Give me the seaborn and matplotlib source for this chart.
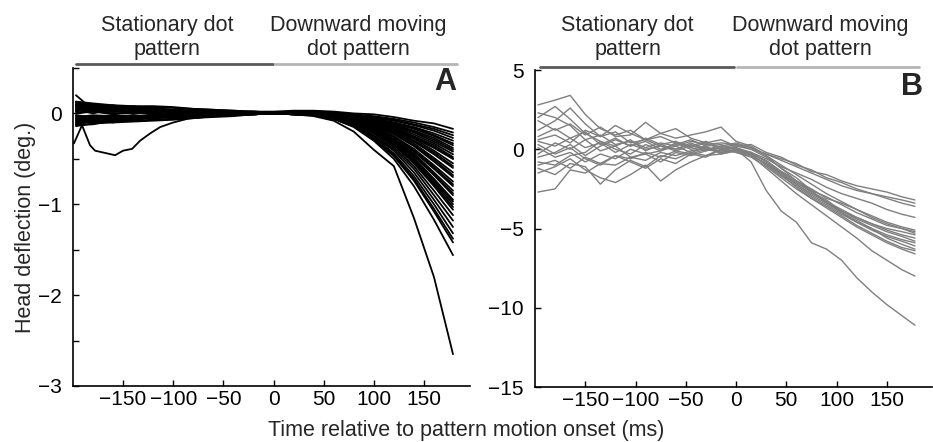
import pandas as pd
import matplotlib
matplotlib.use("Agg")
import matplotlib.pyplot as plt
import seaborn as sns

sns.set_theme(style="ticks")
plt.rcParams['font.family'] = ['Liberation Sans', 'DejaVu Sans']

# Panel A: head deflection (deg.) at coarse time points (ms)
time_a = [-197, -180, -160, -140, -120, -100, -80, -60, -40, -20,
          0, 20, 40, 60, 80, 100, 120, 140, 160, 179]
traces_a = [
    [0.12, 0.10, 0.08, 0.07, 0.07, 0.06, 0.05, 0.04, 0.03, 0.02, 0.02, 0.03, 0.03, 0.02, 0.0, -0.01, -0.04, -0.08, -0.11, -0.17],
    [0.05, 0.07, 0.04, 0.06, 0.03, 0.04, 0.02, 0.03, 0.01, 0.02, 0.01, 0.02, 0.02, 0.01, -0.01, -0.03, -0.06, -0.1, -0.15, -0.21],
    [-0.12, -0.08, -0.09, -0.08, -0.07, -0.06, -0.05, -0.03, -0.02, 0.0, 0.01, 0.02, 0.01, 0.0, -0.02, -0.04, -0.07, -0.12, -0.17, -0.24],
    [-0.09, -0.06, -0.05, -0.03, -0.04, -0.02, -0.03, -0.01, -0.01, 0.0, 0.0, 0.01, 0.0, -0.01, -0.02, -0.05, -0.08, -0.13, -0.19, -0.27],
    [0.08, 0.09, 0.06, 0.05, 0.06, 0.04, 0.02, 0.03, 0.02, 0.01, 0.0, 0.01, 0.0, -0.01, -0.03, -0.06, -0.1, -0.15, -0.22, -0.3],
    [0.1, 0.05, 0.08, 0.04, 0.03, 0.04, 0.02, 0.02, 0.01, 0.01, 0.01, 0.0, 0.0, -0.01, -0.03, -0.06, -0.1, -0.16, -0.24, -0.33],
    [-0.05, -0.1, -0.07, -0.07, -0.04, -0.05, -0.03, -0.02, -0.02, -0.01, 0.0, 0.0, -0.01, -0.02, -0.04, -0.07, -0.11, -0.17, -0.25, -0.35],
    [0.13, 0.11, 0.09, 0.08, 0.08, 0.07, 0.05, 0.04, 0.03, 0.02, 0.0, 0.01, 0.0, -0.02, -0.04, -0.08, -0.12, -0.19, -0.27, -0.38],
    [0.03, 0.05, 0.07, 0.03, 0.04, 0.02, 0.03, 0.01, 0.02, 0.0, 0.01, 0.01, -0.01, -0.02, -0.05, -0.08, -0.13, -0.2, -0.29, -0.4],
    [-0.06, -0.08, -0.03, -0.05, -0.03, -0.03, -0.01, -0.02, 0.0, -0.01, 0.0, 0.0, -0.01, -0.02, -0.05, -0.09, -0.14, -0.21, -0.31, -0.42],
    [-0.1, -0.06, -0.04, -0.05, -0.06, -0.03, -0.02, -0.03, 0.0, -0.01, 0.0, 0.0, -0.01, -0.03, -0.05, -0.09, -0.15, -0.23, -0.33, -0.45],
    [0.0, 0.04, 0.03, 0.02, 0.02, 0.0, 0.02, 0.0, 0.01, 0.0, 0.0, 0.0, -0.01, -0.03, -0.06, -0.1, -0.16, -0.25, -0.35, -0.48],
    [0.1, 0.06, 0.04, 0.06, 0.03, 0.03, 0.02, 0.02, 0.01, 0.02, 0.01, 0.0, -0.01, -0.03, -0.06, -0.1, -0.17, -0.26, -0.37, -0.5],
    [-0.02, -0.04, -0.08, -0.04, -0.02, -0.04, -0.01, -0.02, -0.01, 0.0, 0.0, 0.0, -0.01, -0.03, -0.06, -0.11, -0.18, -0.28, -0.41, -0.55],
    [0.09, 0.06, 0.06, 0.03, 0.02, 0.03, 0.01, 0.01, 0.02, 0.0, 0.0, 0.0, -0.01, -0.03, -0.06, -0.12, -0.19, -0.3, -0.43, -0.58],
    [0.06, 0.02, 0.03, 0.02, 0.05, 0.01, 0.02, 0.0, 0.01, 0.01, 0.0, -0.01, -0.01, -0.03, -0.07, -0.12, -0.2, -0.31, -0.45, -0.6],
    [-0.14, -0.11, -0.1, -0.09, -0.08, -0.07, -0.05, -0.04, -0.03, -0.01, 0.0, 0.0, -0.01, -0.03, -0.07, -0.13, -0.21, -0.33, -0.49, -0.65],
    [-0.1, -0.04, -0.06, -0.04, -0.02, -0.01, -0.02, -0.01, 0.0, 0.0, 0.0, 0.0, -0.01, -0.03, -0.07, -0.14, -0.22, -0.35, -0.51, -0.68],
    [0.0, 0.03, 0.0, 0.01, 0.0, 0.02, 0.0, 0.01, 0.0, 0.01, 0.0, 0.0, -0.01, -0.03, -0.07, -0.14, -0.23, -0.36, -0.53, -0.7],
    [0.11, 0.08, 0.09, 0.05, 0.04, 0.04, 0.03, 0.02, 0.02, 0.01, 0.01, 0.0, -0.01, -0.03, -0.08, -0.15, -0.25, -0.39, -0.57, -0.75],
    [0.03, 0.08, 0.02, 0.05, 0.02, 0.01, 0.03, 0.01, 0.0, 0.01, 0.0, 0.0, -0.01, -0.04, -0.08, -0.16, -0.26, -0.41, -0.59, -0.78],
    [-0.08, -0.11, -0.06, -0.06, -0.03, -0.03, -0.02, -0.02, -0.01, -0.01, 0.0, -0.01, -0.01, -0.03, -0.08, -0.16, -0.26, -0.42, -0.61, -0.8],
    [0.04, 0.0, 0.05, 0.04, 0.02, 0.03, 0.01, 0.02, 0.01, 0.0, 0.0, 0.0, -0.01, -0.04, -0.09, -0.17, -0.28, -0.44, -0.65, -0.85],
    [-0.06, -0.03, -0.07, -0.02, -0.03, -0.04, 0.0, -0.01, -0.01, 0.0, 0.0, 0.0, -0.01, -0.04, -0.09, -0.18, -0.29, -0.46, -0.67, -0.88],
    [-0.04, -0.02, -0.03, -0.02, -0.05, -0.02, -0.03, -0.01, -0.01, 0.0, 0.0, 0.0, -0.01, -0.04, -0.09, -0.18, -0.3, -0.47, -0.68, -0.9],
    [0.13, 0.07, 0.05, 0.08, 0.05, 0.03, 0.04, 0.02, 0.02, 0.01, 0.0, 0.0, -0.01, -0.04, -0.1, -0.19, -0.31, -0.49, -0.72, -0.95],
    [0.08, 0.03, 0.04, 0.02, 0.04, 0.02, 0.01, 0.02, 0.0, 0.01, 0.0, -0.01, -0.02, -0.05, -0.1, -0.2, -0.32, -0.51, -0.74, -0.97],
    [-0.11, -0.07, -0.1, -0.05, -0.04, -0.05, -0.02, -0.03, -0.01, -0.01, 0.0, -0.01, -0.02, -0.05, -0.1, -0.2, -0.33, -0.52, -0.76, -1.0],
    [-0.12, -0.09, -0.06, -0.05, -0.02, -0.03, -0.02, 0.0, -0.01, -0.01, 0.0, 0.0, -0.01, -0.05, -0.1, -0.2, -0.34, -0.53, -0.78, -1.03],
    [0.07, 0.04, 0.02, 0.03, 0.03, 0.01, 0.02, 0.01, 0.0, 0.01, 0.0, 0.0, -0.01, -0.05, -0.11, -0.21, -0.35, -0.55, -0.8, -1.06],
    [-0.07, -0.05, -0.02, -0.04, -0.01, -0.03, -0.01, -0.02, -0.02, 0.0, 0.0, -0.01, -0.02, -0.05, -0.11, -0.22, -0.37, -0.58, -0.85, -1.12],
    [0.02, 0.06, 0.04, 0.0, 0.03, 0.02, 0.0, 0.02, 0.01, 0.0, 0.0, 0.0, -0.02, -0.05, -0.12, -0.24, -0.39, -0.61, -0.9, -1.18],
    [-0.13, -0.12, -0.08, -0.07, -0.05, -0.04, -0.04, -0.02, -0.02, -0.01, 0.0, -0.01, -0.02, -0.05, -0.13, -0.25, -0.41, -0.65, -0.95, -1.25],
    [0.09, 0.1, 0.06, 0.04, 0.06, 0.03, 0.02, 0.03, 0.01, 0.01, 0.0, 0.0, -0.02, -0.06, -0.13, -0.26, -0.44, -0.69, -1.0, -1.32],
    [-0.03, -0.06, -0.04, -0.03, -0.02, -0.01, -0.02, 0.0, -0.01, 0.0, 0.0, -0.01, -0.02, -0.06, -0.14, -0.28, -0.46, -0.72, -1.05, -1.38],
    [0.05, 0.02, 0.02, 0.04, 0.01, 0.02, 0.01, 0.0, 0.01, 0.0, 0.0, 0.0, -0.02, -0.06, -0.14, -0.29, -0.47, -0.74, -1.08, -1.42],
    [0.2, 0.04, 0.02, 0.01, 0.03, 0.0, 0.01, 0.0, 0.02, 0.0, 0.0, 0.0, -0.02, -0.06, -0.15, -0.3, -0.5, -0.8, -1.17, -1.56],
    [0.0, 0.02, -0.01, 0.01, 0.0, 0.01, 0.0, 0.01, 0.0, 0.0, 0.0, -0.01, -0.03, -0.08, -0.2, -0.4, -0.58, -1.15, -1.8, -2.65],
]
# the one trace with an early dip, read at its own time points
dip_time = [-199, -191, -183, -178, -170, -158, -150, -141, -133, -123, -113, -100,
            -86, -60, -30, 0, 20, 40, 60, 80, 100, 120, 140, 160, 179]
dip_trace = [-0.33, -0.13, -0.35, -0.41, -0.43, -0.46, -0.41, -0.39, -0.3, -0.22, -0.15, -0.1,
             -0.06, -0.03, -0.01, 0.0, 0.0, -0.01, -0.03, -0.06, -0.1, -0.17, -0.27, -0.38, -0.5]

# Panel B: head deflection (deg.)
time_b = [-197, -180, -165, -150, -135, -120, -105, -90, -75, -60, -45, -30, -15,
          0, 15, 30, 45, 60, 75, 90, 105, 120, 135, 150, 165, 178]
traces_b = [
    [2.3, 2.0, 1.5, 0.6, 0.9, 0.3, 0.5, 0.1, 0.4, 0.2, 0.5, 0.3, 0.4, 0.3, 0.1, -0.3, -0.6, -0.9, -1.4, -1.6, -2.0, -2.3, -2.5, -2.7, -3.0, -3.2],
    [-0.5, -0.2, 0.3, -0.4, 0.2, 0.6, 0.2, 0.7, 0.3, 0.5, 0.1, 0.4, 0.0, 0.2, 0.3, -0.2, -0.5, -1.0, -1.3, -1.8, -2.1, -2.5, -2.8, -3.1, -3.4, -3.6],
    [1.2, 1.8, 2.6, 1.6, 0.8, 1.1, 0.4, 0.6, 0.2, 0.0, 0.3, -0.1, 0.2, 0.0, -0.2, -0.6, -1.1, -1.5, -1.9, -2.4, -2.8, -3.1, -3.4, -3.8, -4.1, -4.3],
    [0.1, -0.5, -0.2, -0.8, -0.3, -0.6, 0.0, -0.3, -0.1, 0.2, -0.2, 0.1, -0.1, 0.1, -0.3, -0.7, -1.4, -2.0, -2.5, -3.1, -3.4, -3.8, -4.2, -4.6, -4.9, -5.1],
    [2.8, 3.1, 3.4, 2.2, 1.3, 0.9, 1.2, 0.6, 0.8, 0.4, 0.2, 0.5, 0.1, 0.3, 0.0, -0.5, -1.2, -1.8, -2.6, -3.0, -3.5, -4.0, -4.4, -4.8, -5.0, -5.3],
    [-1.0, -0.7, -1.2, -0.5, -0.9, -0.4, -0.6, -0.2, -0.5, -0.1, -0.3, 0.0, -0.2, -0.1, -0.4, -0.9, -1.6, -2.2, -2.8, -3.3, -3.8, -4.3, -4.7, -5.1, -5.4, -5.6],
    [0.8, 1.3, 0.7, 1.1, 0.3, 0.7, 0.2, 0.5, 0.0, 0.3, 0.6, 0.2, 0.3, 0.0, -0.2, -0.8, -1.5, -2.1, -2.7, -3.2, -3.9, -4.4, -4.8, -5.2, -5.5, -5.8],
    [-2.7, -2.5, -1.3, -1.5, -0.9, -1.0, -0.5, -0.7, -0.2, -0.4, -0.1, 0.1, -0.2, 0.0, -0.3, -1.0, -1.7, -2.3, -3.0, -3.5, -4.1, -4.6, -5.1, -5.5, -5.8, -6.1],
    [1.8, 1.2, 1.6, 0.9, 1.4, 0.8, 0.9, 1.7, 1.0, 0.7, 0.9, 1.1, 1.4, 0.5, 0.2, -0.4, -1.2, -2.0, -2.7, -3.3, -4.0, -4.5, -5.0, -5.6, -6.0, -6.3],
    [-0.3, 0.4, 0.0, 0.6, -0.1, 0.2, -0.5, -0.3, -0.8, -0.2, -0.4, -0.1, 0.1, -0.2, -0.5, -1.1, -1.8, -2.5, -3.1, -3.7, -4.3, -4.9, -5.4, -5.9, -6.3, -6.6],
    [-1.5, -1.1, -0.6, -1.3, -1.8, -2.1, -1.6, -1.0, -2.0, -1.3, -0.8, -0.4, -0.3, -0.1, -0.4, -1.2, -2.0, -2.8, -3.5, -4.2, -4.9, -5.6, -6.4, -7.0, -7.6, -8.0],
    [0.5, 0.2, 0.7, 0.1, 0.4, -0.2, 0.3, 0.0, 0.2, -0.1, 0.2, 0.1, -0.2, 0.0, -0.8, -2.6, -3.9, -4.6, -5.9, -6.3, -7.0, -8.1, -9.0, -9.8, -10.5, -11.1],
    [0.3, -0.3, 0.1, -0.6, -1.0, -0.4, -0.8, -1.2, -0.6, -0.9, -0.3, -0.5, 0.0, -0.2, -0.4, -0.9, -1.5, -2.2, -2.9, -3.4, -3.9, -4.3, -4.7, -5.0, -5.2, -5.4],
    [-1.2, -1.6, -0.9, -1.1, -2.2, -1.3, -0.7, -1.1, -0.4, -0.6, -0.2, -0.4, 0.0, 0.1, -0.2, -0.8, -1.4, -2.0, -2.6, -3.4, -4.0, -4.6, -5.0, -5.4, -5.7, -5.9],
    [0.6, 0.9, 0.4, 1.2, 0.8, 1.5, 1.0, 0.6, 1.0, 1.3, 0.7, 0.4, 0.6, 0.2, 0.0, -0.3, -0.7, -1.1, -1.5, -1.9, -2.3, -2.6, -2.8, -3.0, -3.2, -3.4],
    [-0.8, -1.0, -0.4, -0.2, 0.5, 0.0, -0.3, 0.3, -0.1, 0.4, 0.0, 0.2, -0.3, -0.1, -0.3, -1.0, -1.6, -2.4, -3.1, -3.6, -4.2, -4.8, -5.3, -5.8, -6.2, -6.4],
    [2.0, 2.7, 1.9, 1.0, 0.5, 0.2, 0.6, -0.1, 0.3, 0.0, 0.4, 0.0, 0.2, 0.4, 0.1, -0.4, -1.0, -1.6, -2.2, -2.8, -3.3, -3.8, -4.3, -4.7, -5.0, -5.2],
]

xticks = [-150, -100, -50, 0, 50, 100, 150]


def long_form(times, traces, start_id=0):
    rows = []
    for i, tr in enumerate(traces):
        for t, v in zip(times, tr):
            rows.append({'trace': start_id + i, 't': t, 'v': v})
    return pd.DataFrame(rows)


df_a = pd.concat([long_form(time_a, traces_a),
                  long_form(dip_time, [dip_trace], start_id=len(traces_a))])
df_b = long_form(time_b, traces_b)

fig = plt.figure(figsize=(9.33, 4.42), dpi=100)
ax_a = fig.add_axes([0.0782, 0.1267, 0.4256, 0.7195])
ax_b = fig.add_axes([0.5734, 0.1244, 0.4256, 0.7172])

sns.lineplot(data=df_a, x='t', y='v', units='trace', estimator=None,
             color='black', lw=1.3, legend=False, ax=ax_a, sort=False)
sns.lineplot(data=df_b, x='t', y='v', units='trace', estimator=None,
             color='#7f7f7f', lw=1, legend=False, ax=ax_b, sort=False)

ax_a.set_xlim(-200, 196)
ax_a.set_ylim(-3, 0.5)
ax_a.set_yticks([-3, -2.5, -2, -1.5, -1, -0.5, 0, 0.5])
ax_a.set_yticklabels(['\u22123', '', '\u22122', '', '\u22121', '', '0', ''])

ax_b.set_xlim(-200, 195)
ax_b.set_ylim(-15, 5)
ax_b.set_yticks([-15, -10, -5, 0, 5])

for ax in (ax_a, ax_b):
    sns.despine(ax=ax)
    ax.set_xticks(xticks)
    ax.set_xlabel('')
    ax.set_ylabel('')
    ax.tick_params(axis='both', direction='in', length=4, width=1,
                   labelsize=15, colors='black')
    ax.tick_params(axis='y', pad=8)
    ax.tick_params(axis='x', pad=3)
    for s in ('left', 'bottom'):
        ax.spines[s].set_color('black')
        ax.spines[s].set_linewidth(1.2)

# condition bars above each panel
ax_a.plot([-197, -1], [0.54, 0.54], color='#5a5a5a', lw=2, clip_on=False)
ax_a.plot([1, 183], [0.54, 0.54], color='#b5b5b5', lw=2, clip_on=False)
ax_b.plot([-195, -2], [5.2, 5.2], color='#5a5a5a', lw=2, clip_on=False)
ax_b.plot([1, 182], [5.2, 5.2], color='#b5b5b5', lw=2, clip_on=False)

for xc in (0.179, 0.6726):
    fig.text(xc, 0.916, 'Stationary dot\npattern', ha='center', va='center',
             fontsize=15.5, linespacing=1.2)
for xc in (0.384, 0.879):
    fig.text(xc, 0.916, 'Downward moving\ndot pattern', ha='center', va='center',
             fontsize=15.5, linespacing=1.2)

fig.text(445 / 933, 1 - 82 / 442, 'A', fontsize=22, fontweight='bold', ha='center', va='center')
fig.text(912 / 933, 1 - 87 / 442, 'B', fontsize=22, fontweight='bold', ha='center', va='center')

fig.text(0.027, 0.486, 'Head deflection (deg.)', rotation=90, ha='center', va='center', fontsize=15.5)
fig.text(0.5, 0.027, 'Time relative to pattern motion onset (ms)', ha='center', va='center', fontsize=15.5)

fig.savefig('out.png', dpi=100)
